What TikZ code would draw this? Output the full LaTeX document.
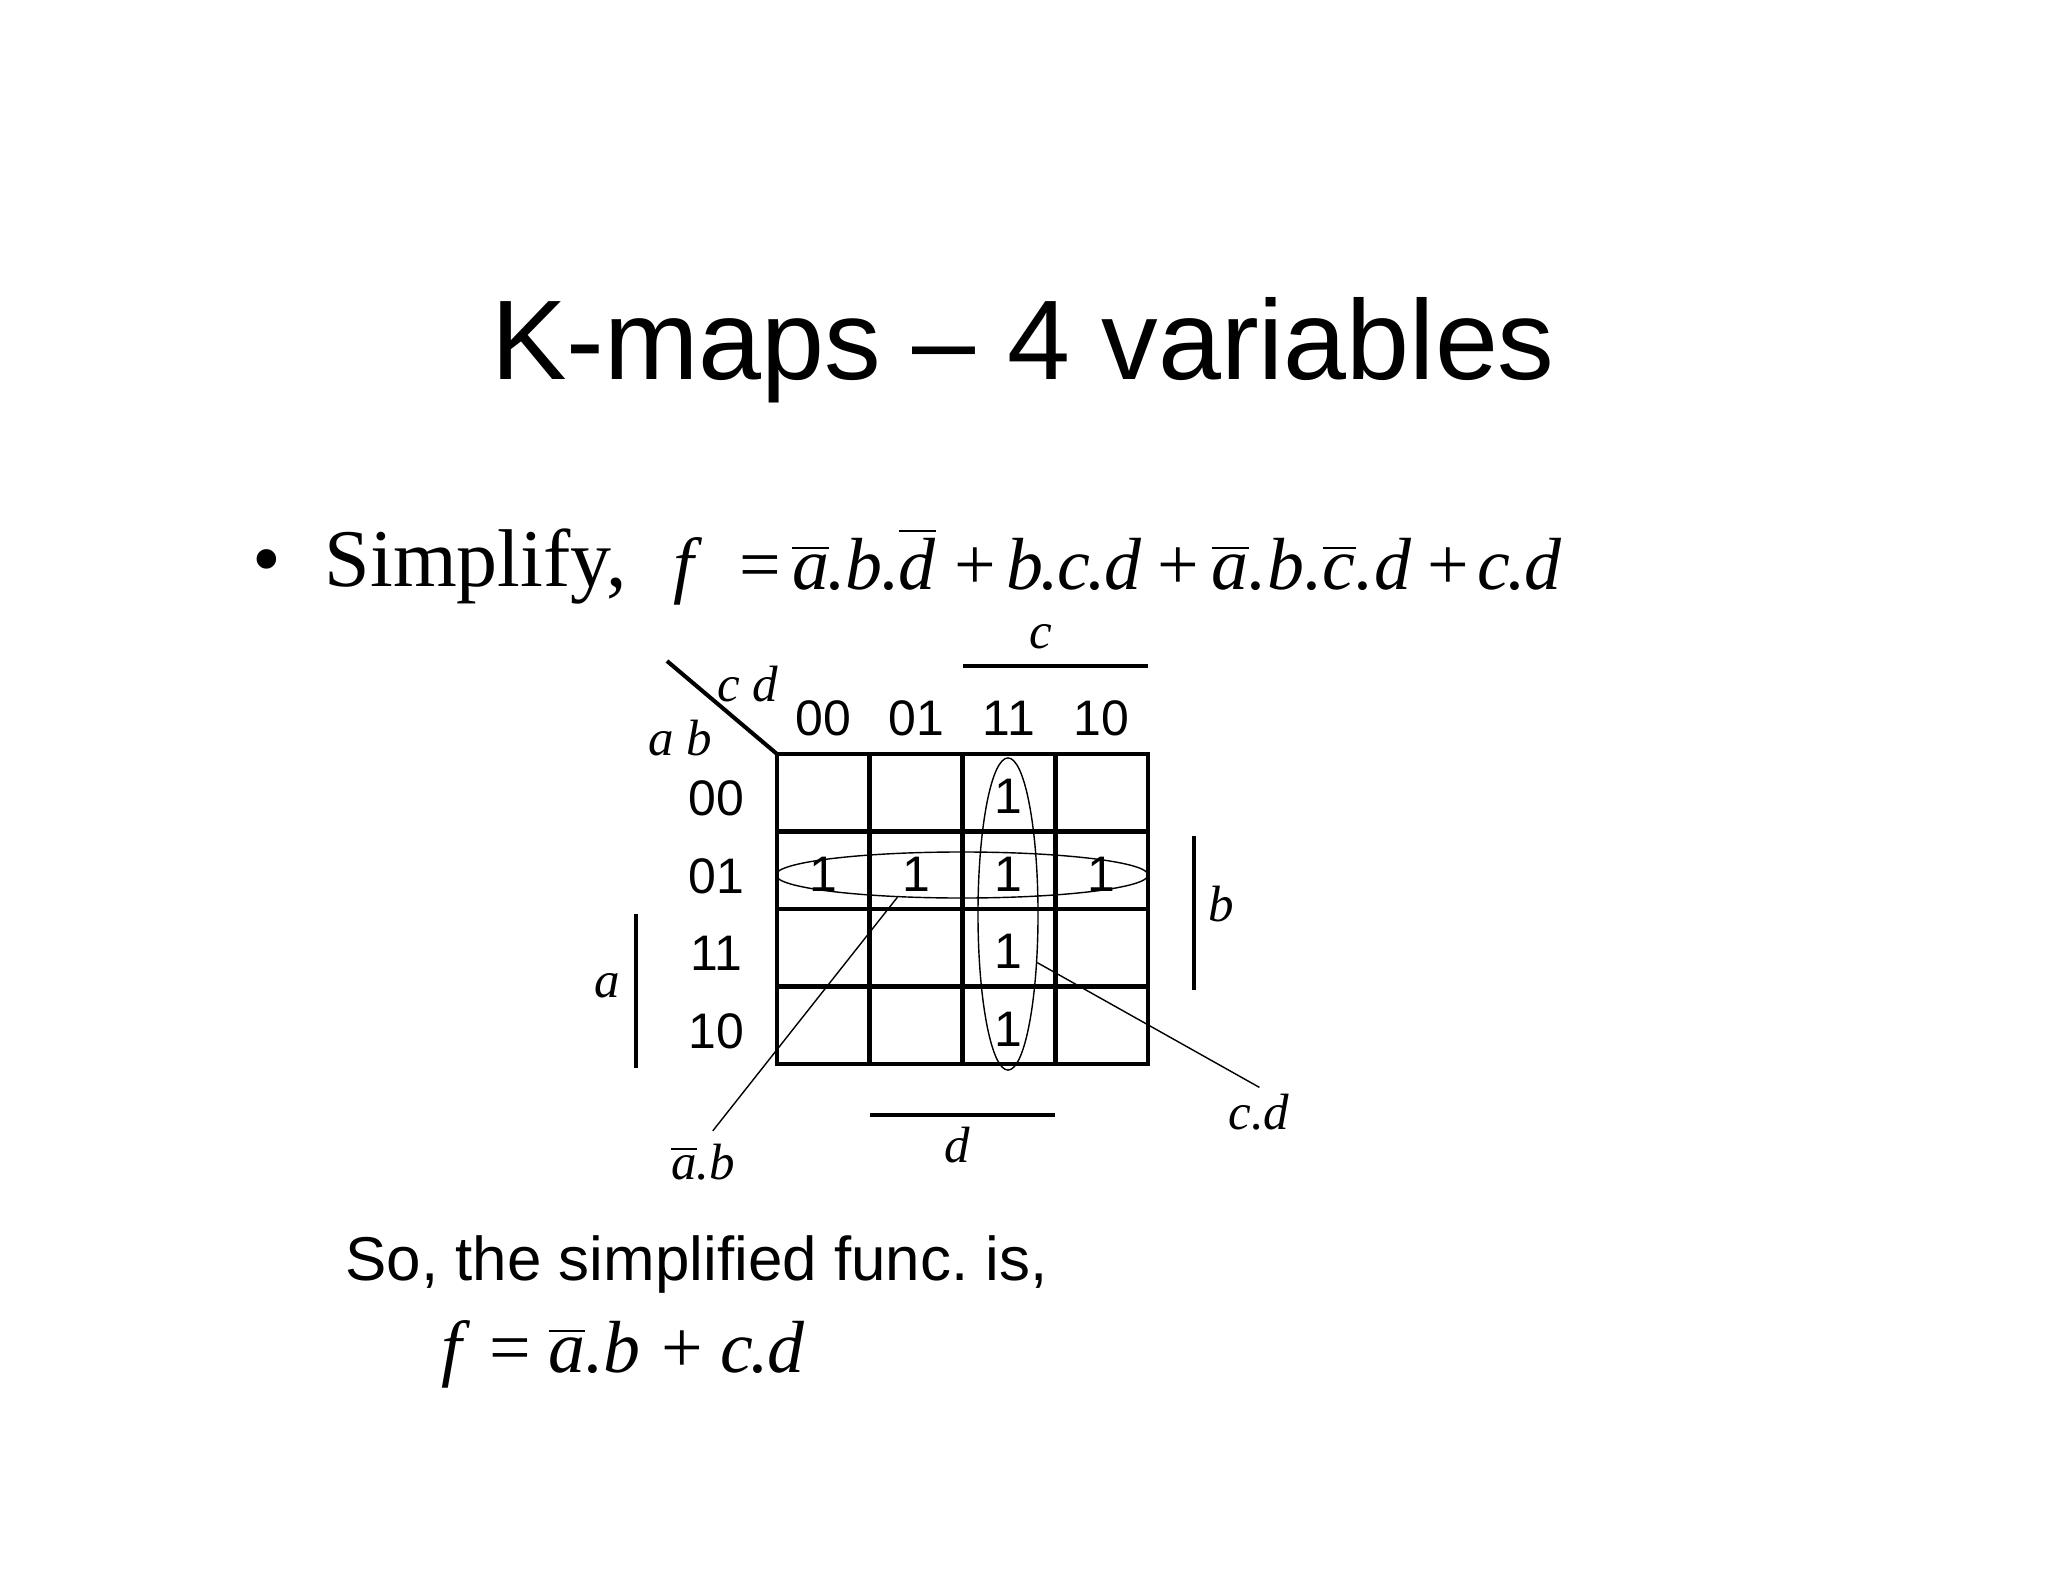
\documentclass[tikz,border=0pt]{standalone}
\usepackage{fontspec}
\setmainfont{Liberation Serif}
\newfontfamily\arialfont{Liberation Sans}
\usetikzlibrary{shapes.geometric}
\newcommand\nb[1]{\setbox0=\hbox{#1}\rlap{\raisebox{\dimexpr\ht0+1.5pt\relax}{\rule{\wd0}{0.6pt}}}\box0}
\newcommand\op[3]{\hspace{#1}{\upshape #2}\hspace{#3}}
\newcommand\pd{\kern-0.04em.\kern-0.02em}
\newcommand\po{\kern-0.02em.\kern-0.01em}
\frenchspacing

\begin{document}
\begin{tikzpicture}[x=0.01cm, y=-0.01cm, line width=0.4pt,
  sans/.style={font=\arialfont\fontsize{14.2}{16}\selectfont, inner sep=0pt},
  var/.style={font=\itshape\fontsize{14.5}{16}\selectfont, inner sep=0pt},
  eqn/.style={font=\itshape\fontsize{21}{24}\selectfont, anchor=base west, inner sep=0pt},
  gridline/.style={line width=1.4pt},
  bar/.style={line width=1.15pt},
  loop/.style={draw, ellipse, inner sep=0pt, line width=0.4pt}]
  \useasboundingbox (0,0) rectangle (2048,1582);
  \node[font=\arialfont\fontsize{32.2}{36}\selectfont, anchor=base] (title) at (1023,379) {K-maps – 4 variables};
  \node[font=\fontsize{23.3}{26}\selectfont, anchor=base west, inner sep=0pt] (bul) at (252,586) {•};
  \node[font=\fontsize{23.3}{26}\selectfont, anchor=base west, inner sep=0pt] (simp) at (324,586) {Simplify,};
  \node[eqn] (fexpr) at (673,589)
    {f\/\op{0.5em}{=}{0.15em}\nb{a}\po b\po\nb{d}\op{0.25em}{+}{0.15em}b\pd c\pd d\op{0.21em}{+}{0.18em}\nb{a}.b.\nb{c}.d\op{0.23em}{+}{0.11em}c\pd d};
  % map
  \coordinate (nw) at (777,754);
  \foreach \i in {0,...,4} {
    \draw[gridline] (777+92.75*\i,754) -- (777+92.75*\i,1064);
    \draw[gridline] (775,754+77.5*\i) -- (1150,754+77.5*\i);
  }
  \draw[bar] (667,661) -- (nw);
  \node[var] (cdhd) at (748,684) {c d};
  \node[var] (abhd) at (680,738) {a b};
  \foreach \t [count=\c] in {00,01,11,10} {
    \node[sans] (col\c) at ({777+92.75*(\c-0.5)},718) {\t};
    \node[sans] (row\c) at (716,{754+77.5*(\c-0.5)+6}) {\t};
  }
  \foreach \c in {1,...,4}
    \node[sans] (one-2-\c) at ({777+92.75*(\c-0.5)},{754+77.5*1.5+4}) {1};
  \foreach \r in {1,3,4}
    \node[sans] (one-\r-3) at ({777+92.75*2.5},{754+77.5*(\r-0.5)+4}) {1};
  % variable bars
  \draw[bar] (963,666) -- (1148,666);
  \node[var] (clab) at (1041,637) {c};
  \draw[bar] (1194,836) -- (1194,990);
  \node[var] (blab) at (1221,904) {b};
  \draw[bar] (636,914) -- (636,1068);
  \node[var] (alab) at (607,986) {a};
  \draw[bar] (870,1115) -- (1055,1115);
  \node[var] (dlab) at (957,1145) {d};
  % groups
  \node[loop, minimum width=3.72cm, minimum height=0.46cm] (quad) at (962,875) {};
  \node[loop, minimum width=0.6cm, minimum height=3.12cm] (pair) at (1008,914) {};
  \node[var] (abl) at (703,1162) {\nb{a}.b};
  \node[var] (cdl) at (1259,1112) {c.d};
  \draw[shorten >=4.5pt] (quad.-161) -- (abl.north);
  \draw[shorten >=3.4pt] (pair.-59) -- (cdl.60);
  % result
  \node[font=\arialfont\fontsize{17.6}{20}\selectfont, anchor=base west, inner sep=0pt] (so) at (345,1280) {So, the simplified func. is,};
  \node[eqn] (fres) at (441,1372) {f\/\op{0.26em}{=}{0.23em}\nb{a}.b\op{0.28em}{+}{0.23em}c\pd d};
\end{tikzpicture}
\end{document}
